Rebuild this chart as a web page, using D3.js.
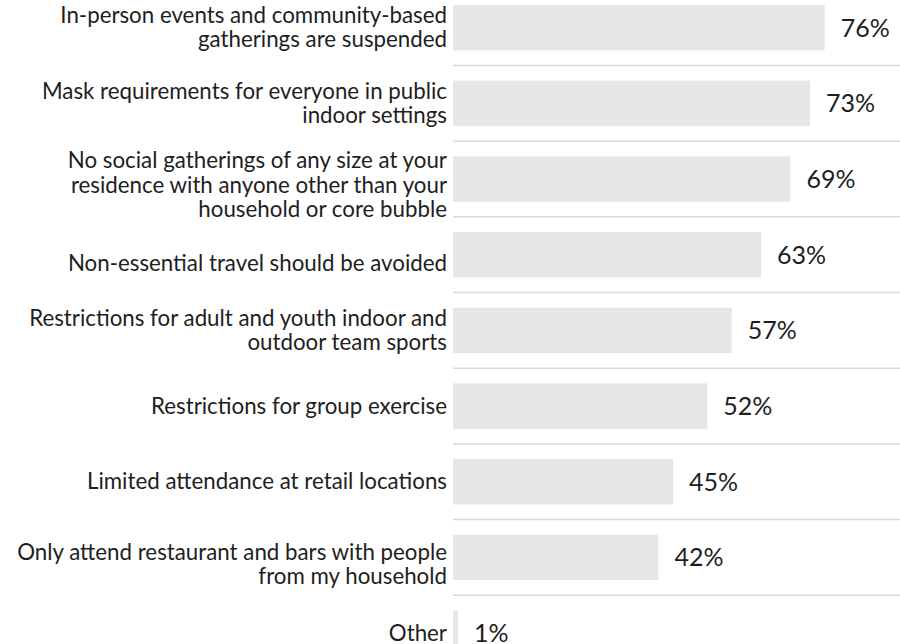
<!DOCTYPE html>
<html>
<head>
<meta charset="utf-8">
<script src="https://cdn.jsdelivr.net/npm/d3@7"></script>
<style>
  html, body { margin: 0; padding: 0; background: #ffffff; }
  svg { display: block; }
  text { font-family: Lato, "Open Sans", sans-serif; fill: #1e1e1e; }
</style>
</head>
<body>
<svg id="chart" width="900" height="644"></svg>
<script>
const categories = [
  ["In-person events and community-based", "gatherings are suspended"],
  ["Mask requirements for everyone in public", "indoor settings"],
  ["No social gatherings of any size at your", "residence with anyone other than your", "household or core bubble"],
  ["Non-essential travel should be avoided"],
  ["Restrictions for adult and youth indoor and", "outdoor team sports"],
  ["Restrictions for group exercise"],
  ["Limited attendance at retail locations"],
  ["Only attend restaurant and bars with people", "from my household"],
  ["Other"]
];
const values = [76, 73, 69, 63, 57, 52, 45, 42, 1];

const svg = d3.select("#chart");
const left = 453;
const x = d3.scaleLinear().domain([0, 100]).range([left, left + 489]);
const y = d3.scaleBand()
  .domain(d3.range(values.length))
  .range([-10.2, 671])
  .paddingInner(0.4)
  .paddingOuter(0.2);

// small per-row vertical nudges of the category text (layout only)
const labelNudge = {2: 6, 3: 9, 7: 7};

// separators
const seps = d3.range(values.length - 1);
svg.append("g").selectAll("line")
  .data(seps)
  .join("line")
  .attr("x1", left)
  .attr("x2", 900)
  .attr("y1", i => (y(i) + y.bandwidth() + y(i + 1)) / 2)
  .attr("y2", i => (y(i) + y.bandwidth() + y(i + 1)) / 2)
  .attr("stroke", "#d9d9d9")
  .attr("stroke-width", 1.5);

// bars
svg.append("g").selectAll("rect")
  .data(values)
  .join("rect")
  .attr("x", x(0))
  .attr("y", (d, i) => y(i))
  .attr("width", d => x(d) - x(0))
  .attr("height", y.bandwidth())
  .attr("fill", "#e6e6e6");

// value labels
svg.append("g").selectAll("text")
  .data(values)
  .join("text")
  .attr("x", d => x(d) + 16)
  .attr("y", (d, i) => y(i) + y.bandwidth() / 2)
  .attr("dy", "0.36em")
  .attr("font-size", 25)
  .text(d => d + "%");

// category labels
const fs = 22.3;
const lineH = 24.5;
const lab = svg.append("g").selectAll("text")
  .data(categories)
  .join("text")
  .attr("text-anchor", "end")
  .attr("font-size", fs)
  .attr("y", (d, i) => y(i) + y.bandwidth() / 2 + (labelNudge[i] || 0));
lab.selectAll("tspan")
  .data(d => d.map((t, k) => ({t, k, n: d.length})))
  .join("tspan")
  .attr("x", 447)
  .attr("dy", (o) => o.k === 0 ? (0.34 * fs - (o.n - 1) * lineH / 2) : lineH)
  .text(o => o.t);
</script>
</body>
</html>
